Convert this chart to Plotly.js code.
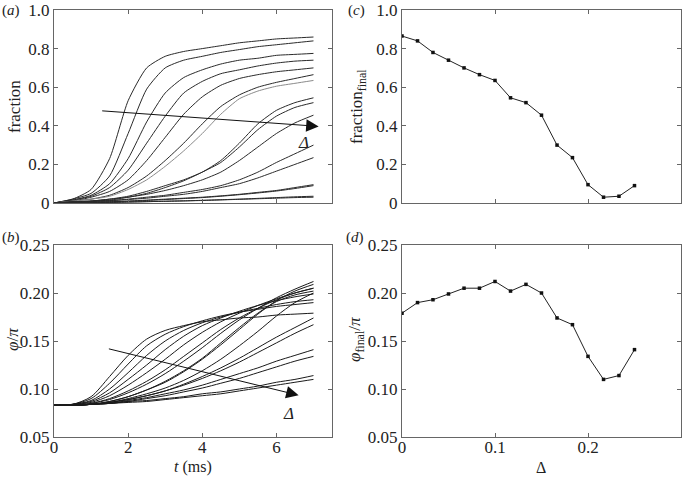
<!DOCTYPE html>
<html>
<head>
<meta charset="utf-8">
<script src="https://cdn.plot.ly/plotly-3.0.1.min.js"></script>
<style>html,body{margin:0;padding:0;background:#fff;}#chart{width:691px;height:477px;}</style>
</head>
<body>
<div id="chart"></div>
<script>
// ---------- data ----------
const t = [0, 0.5, 1, 1.5, 2, 2.5, 3, 3.5, 4, 4.5, 5, 5.5, 6, 6.5, 7];

// panel (a): fraction vs t, one row per Delta (increasing)
const fraction = [
  [0, 0.02, 0.07, 0.23, 0.53, 0.70, 0.76, 0.785, 0.80, 0.815, 0.83, 0.84, 0.85, 0.855, 0.86],
  [0, 0.02, 0.05, 0.14, 0.36, 0.59, 0.70, 0.74, 0.76, 0.78, 0.795, 0.81, 0.82, 0.83, 0.84],
  [0, 0.015, 0.04, 0.10, 0.23, 0.42, 0.57, 0.65, 0.69, 0.72, 0.74, 0.75, 0.765, 0.77, 0.775],
  [0, 0.015, 0.035, 0.08, 0.17, 0.31, 0.45, 0.57, 0.63, 0.67, 0.69, 0.71, 0.725, 0.735, 0.74],
  [0, 0.01, 0.03, 0.06, 0.12, 0.22, 0.34, 0.46, 0.55, 0.61, 0.645, 0.665, 0.68, 0.69, 0.70],
  [0, 0.01, 0.02, 0.04, 0.08, 0.14, 0.22, 0.31, 0.41, 0.50, 0.56, 0.60, 0.625, 0.645, 0.665],
  [0, 0.01, 0.02, 0.035, 0.07, 0.12, 0.19, 0.27, 0.36, 0.46, 0.54, 0.58, 0.605, 0.62, 0.635],
  [0, 0.005, 0.01, 0.02, 0.035, 0.06, 0.09, 0.12, 0.16, 0.22, 0.31, 0.41, 0.48, 0.52, 0.545],
  [0, 0.005, 0.01, 0.02, 0.03, 0.05, 0.08, 0.115, 0.16, 0.21, 0.29, 0.38, 0.45, 0.495, 0.52],
  [0, 0.005, 0.01, 0.015, 0.03, 0.045, 0.065, 0.09, 0.12, 0.16, 0.22, 0.29, 0.36, 0.415, 0.455],
  [0, 0.005, 0.008, 0.012, 0.02, 0.03, 0.04, 0.055, 0.07, 0.09, 0.12, 0.16, 0.21, 0.255, 0.30],
  [0, 0.005, 0.008, 0.012, 0.018, 0.025, 0.035, 0.045, 0.06, 0.08, 0.10, 0.13, 0.165, 0.20, 0.235],
  [0, 0.002, 0.005, 0.007, 0.01, 0.015, 0.02, 0.025, 0.03, 0.037, 0.045, 0.055, 0.065, 0.08, 0.095],
  [0, 0.001, 0.002, 0.003, 0.005, 0.007, 0.009, 0.011, 0.013, 0.016, 0.019, 0.022, 0.025, 0.028, 0.03],
  [0, 0.001, 0.002, 0.003, 0.005, 0.007, 0.009, 0.011, 0.014, 0.017, 0.020, 0.024, 0.028, 0.032, 0.035],
  [0, 0.002, 0.004, 0.006, 0.009, 0.013, 0.018, 0.023, 0.028, 0.035, 0.043, 0.052, 0.062, 0.075, 0.09]
];

// panel (b): phi/pi vs t
const phi = [
  [0.083, 0.084, 0.092, 0.113, 0.135, 0.152, 0.161, 0.166, 0.170, 0.172, 0.174, 0.175, 0.177, 0.178, 0.179],
  [0.083, 0.084, 0.090, 0.106, 0.126, 0.145, 0.157, 0.165, 0.171, 0.176, 0.180, 0.183, 0.186, 0.188, 0.190],
  [0.083, 0.084, 0.088, 0.100, 0.117, 0.135, 0.150, 0.161, 0.169, 0.175, 0.180, 0.184, 0.188, 0.191, 0.193],
  [0.083, 0.084, 0.087, 0.096, 0.110, 0.125, 0.141, 0.155, 0.166, 0.174, 0.181, 0.187, 0.192, 0.196, 0.199],
  [0.083, 0.084, 0.086, 0.093, 0.104, 0.117, 0.131, 0.146, 0.159, 0.170, 0.179, 0.187, 0.194, 0.200, 0.205],
  [0.083, 0.083, 0.085, 0.090, 0.098, 0.108, 0.120, 0.134, 0.148, 0.162, 0.174, 0.184, 0.193, 0.200, 0.205],
  [0.083, 0.083, 0.085, 0.089, 0.096, 0.105, 0.116, 0.129, 0.143, 0.158, 0.172, 0.184, 0.195, 0.204, 0.212],
  [0.083, 0.083, 0.084, 0.087, 0.092, 0.099, 0.108, 0.119, 0.132, 0.148, 0.164, 0.179, 0.191, 0.198, 0.202],
  [0.083, 0.083, 0.084, 0.087, 0.092, 0.099, 0.107, 0.118, 0.131, 0.146, 0.162, 0.178, 0.192, 0.202, 0.209],
  [0.083, 0.083, 0.084, 0.086, 0.090, 0.095, 0.101, 0.109, 0.119, 0.131, 0.145, 0.160, 0.176, 0.190, 0.200],
  [0.083, 0.083, 0.084, 0.086, 0.089, 0.093, 0.098, 0.105, 0.113, 0.122, 0.132, 0.143, 0.154, 0.164, 0.174],
  [0.083, 0.083, 0.084, 0.086, 0.089, 0.093, 0.098, 0.104, 0.111, 0.119, 0.128, 0.138, 0.148, 0.158, 0.167],
  [0.083, 0.083, 0.084, 0.085, 0.087, 0.090, 0.093, 0.097, 0.101, 0.106, 0.111, 0.117, 0.123, 0.129, 0.134],
  [0.083, 0.083, 0.084, 0.085, 0.086, 0.087, 0.089, 0.091, 0.093, 0.095, 0.098, 0.101, 0.104, 0.107, 0.110],
  [0.083, 0.083, 0.084, 0.085, 0.087, 0.088, 0.090, 0.092, 0.095, 0.097, 0.100, 0.103, 0.107, 0.110, 0.114],
  [0.083, 0.083, 0.084, 0.085, 0.088, 0.091, 0.095, 0.099, 0.104, 0.110, 0.116, 0.122, 0.129, 0.135, 0.141]
];

// panels (c), (d)
const delta = [0, 0.0167, 0.0333, 0.05, 0.0667, 0.0833, 0.1, 0.1167, 0.1333, 0.15, 0.1667, 0.1833, 0.2, 0.2167, 0.2333, 0.25];
const fractionFinal = [0.865, 0.84, 0.78, 0.74, 0.70, 0.665, 0.635, 0.545, 0.52, 0.455, 0.30, 0.235, 0.095, 0.03, 0.035, 0.09];
const phiFinal = [0.179, 0.190, 0.193, 0.199, 0.205, 0.205, 0.212, 0.202, 0.209, 0.200, 0.174, 0.167, 0.134, 0.110, 0.114, 0.141];

const fracTicks = [0, 0.2, 0.4, 0.6, 0.8, 1.0];
const fracTickText = ['0', '0.2', '0.4', '0.6', '0.8', '1.0'];
const phiTicks = [0.05, 0.10, 0.15, 0.20, 0.25];
const phiTickText = ['0.05', '0.10', '0.15', '0.20', '0.25'];
const tTicks = [0, 2, 4, 6];
const dTicks = [0, 0.1, 0.2, 0.3];
const dTickText = ['0', '0.1', '0.2', '0.3'];

// ---------- traces ----------
const traces = [];
fraction.forEach((row, i) => {
  traces.push({x: t, y: row, xaxis: 'x', yaxis: 'y', mode: 'lines',
    line: {color: i === 6 ? '#8a8a8a' : '#2a2a2a', width: 1, shape: 'spline', smoothing: 0.6},
    hoverinfo: 'skip'});
});
phi.forEach(row => {
  traces.push({x: t, y: row, xaxis: 'x2', yaxis: 'y2', mode: 'lines',
    line: {color: '#1a1a1a', width: 1, shape: 'spline', smoothing: 0.8}, hoverinfo: 'skip'});
});
traces.push({x: delta, y: fractionFinal, xaxis: 'x3', yaxis: 'y3', mode: 'lines+markers',
  line: {color: '#222', width: 1}, marker: {color: '#111', size: 3.5, symbol: 'square'}});
traces.push({x: delta, y: phiFinal, xaxis: 'x4', yaxis: 'y4', mode: 'lines+markers',
  line: {color: '#222', width: 1}, marker: {color: '#111', size: 3.5, symbol: 'square'}});

// ---------- layout ----------
const FONT = '"Liberation Serif", "Times New Roman", serif';
const frameColor = '#666';
function ax(extra) {
  return Object.assign({
    showline: true, linecolor: frameColor, linewidth: 1, mirror: 'allticks',
    ticks: 'inside', ticklen: 4, tickcolor: frameColor, tickwidth: 1,
    showgrid: false, zeroline: false, fixedrange: true,
    tickfont: {family: FONT, size: 17, color: '#222'}
  }, extra);
}
const W = 691, H = 477;
const colA = [54 / W, 332 / W];
const colC = [402 / W, 681 / W];
const rowTop = [1 - 203 / H, 1 - 10 / H];
const rowBot = [1 - 437 / H, 1 - 245 / H];
const TITLE = {family: FONT, size: 17, color: '#222'};
const XTITLE = {family: FONT, size: 16, color: '#222'};
const LETTER = {family: FONT, size: 15, color: '#222'};

const layout = {
  width: W, height: H, margin: {l: 0, r: 0, t: 0, b: 0},
  paper_bgcolor: '#fff', plot_bgcolor: '#fff', showlegend: false,
  font: {family: FONT, size: 17, color: '#222'},
  xaxis: ax({domain: colA, anchor: 'y', range: [0, 7.5], tickvals: tTicks, showticklabels: false}),
  yaxis: ax({domain: rowTop, anchor: 'x', range: [0, 1], tickvals: fracTicks, ticktext: fracTickText}),
  xaxis2: ax({domain: colA, anchor: 'y2', range: [0, 7.5], tickvals: tTicks, ticklabelstandoff: -5}),
  yaxis2: ax({domain: rowBot, anchor: 'x2', range: [0.05, 0.25], tickvals: phiTicks, ticktext: phiTickText}),
  xaxis3: ax({domain: colC, anchor: 'y3', range: [0, 0.3], tickvals: dTicks, showticklabels: false}),
  yaxis3: ax({domain: rowTop, anchor: 'x3', range: [0, 1], tickvals: fracTicks, ticktext: fracTickText}),
  xaxis4: ax({domain: colC, anchor: 'y4', range: [0, 0.3], tickvals: dTicks, ticktext: dTickText, ticklabelstandoff: -5}),
  yaxis4: ax({domain: rowBot, anchor: 'x4', range: [0.05, 0.25], tickvals: phiTicks, ticktext: phiTickText}),
  annotations: [
    // panel letters
    {xref: 'paper', yref: 'paper', x: 0 / W, y: 1 - 10 / H, xanchor: 'left', yanchor: 'middle', text: '(<i>a</i>)', showarrow: false, font: LETTER},
    {xref: 'paper', yref: 'paper', x: 0 / W, y: 1 - 237 / H, xanchor: 'left', yanchor: 'middle', text: '(<i>b</i>)', showarrow: false, font: LETTER},
    {xref: 'paper', yref: 'paper', x: 346 / W, y: 1 - 10 / H, xanchor: 'left', yanchor: 'middle', text: '(<i>c</i>)', showarrow: false, font: LETTER},
    {xref: 'paper', yref: 'paper', x: 344 / W, y: 1 - 237 / H, xanchor: 'left', yanchor: 'middle', text: '(<i>d</i>)', showarrow: false, font: LETTER},
    // axis titles
    {xref: 'paper', yref: 'paper', x: 14 / W, y: 1 - 107 / H, xanchor: 'center', yanchor: 'middle', textangle: -90, text: 'fraction', showarrow: false, font: TITLE},
    {xref: 'paper', yref: 'paper', x: 12 / W, y: 1 - 340 / H, xanchor: 'center', yanchor: 'middle', textangle: -90, text: '<i>φ</i>/<i>π</i>', showarrow: false, font: TITLE},
    {xref: 'paper', yref: 'paper', x: 358 / W, y: 1 - 107 / H, xanchor: 'center', yanchor: 'middle', textangle: -90, text: 'fraction<sub>final</sub>', showarrow: false, font: TITLE},
    {xref: 'paper', yref: 'paper', x: 356 / W, y: 1 - 340 / H, xanchor: 'center', yanchor: 'middle', textangle: -90, text: '<i>φ</i><sub>final</sub>/<i>π</i>', showarrow: false, font: TITLE},
    {xref: 'paper', yref: 'paper', x: 193 / W, y: 0, xanchor: 'center', yanchor: 'bottom', borderpad: 0, text: '<i>t</i> (ms)', showarrow: false, font: XTITLE},
    {xref: 'paper', yref: 'paper', x: 541 / W, y: 0, xanchor: 'center', yanchor: 'bottom', borderpad: 0, text: 'Δ', showarrow: false, font: XTITLE},
    // arrows
    {xref: 'x', yref: 'y', axref: 'x', ayref: 'y', x: 7.14, y: 0.397, ax: 1.26, ay: 0.478, text: '', showarrow: true,
      arrowhead: 2, arrowsize: 2.5, arrowwidth: 1, arrowcolor: '#111'},
    {xref: 'x', yref: 'y', x: 6.73, y: 0.315, text: '<i>Δ</i>', showarrow: false, font: TITLE},
    {xref: 'x2', yref: 'y2', axref: 'x2', ayref: 'y2', x: 6.6, y: 0.0935, ax: 1.44, ay: 0.1422, text: '', showarrow: true,
      arrowhead: 2, arrowsize: 2.5, arrowwidth: 1, arrowcolor: '#111'},
    {xref: 'x2', yref: 'y2', x: 6.33, y: 0.075, text: '<i>Δ</i>', showarrow: false, font: TITLE}
  ]
};

Plotly.newPlot('chart', traces, layout, {staticPlot: true, displayModeBar: false});
</script>
</body>
</html>
